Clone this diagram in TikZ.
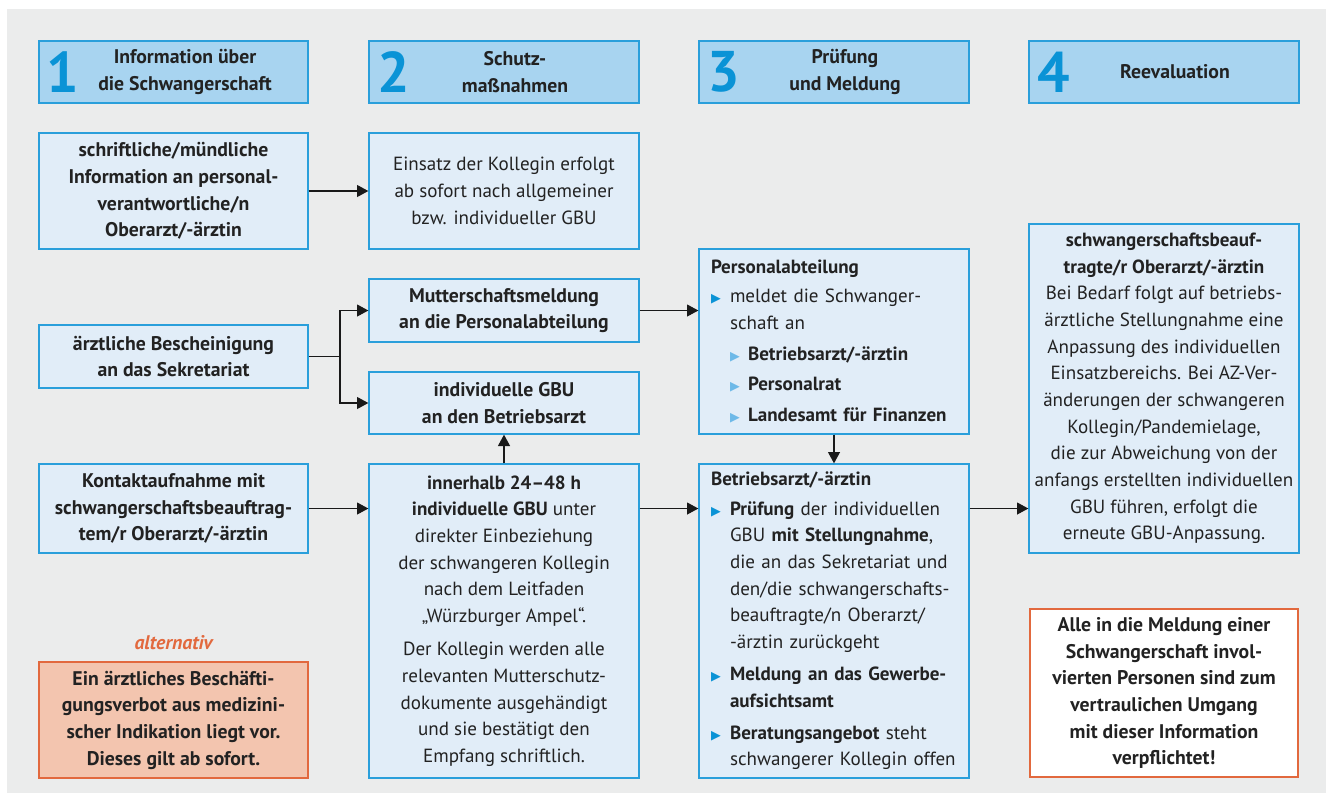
\documentclass[tikz,border=0pt]{standalone}
\usepackage{fontspec}
\setmainfont{PT Sans}
\newfontfamily\symfont{DejaVu Sans}
\usetikzlibrary{arrows.meta}
\definecolor{bgc}{HTML}{EBECEC}
\definecolor{headfill}{HTML}{A8D4F0}
\definecolor{boxfill}{HTML}{E1EDF8}
\definecolor{blueline}{HTML}{2A9FDB}
\definecolor{numblue}{HTML}{0A93D6}
\definecolor{lightbul}{HTML}{6DB9E8}
\definecolor{orfill}{HTML}{F3C5AF}
\definecolor{orline}{HTML}{E2693E}
\definecolor{txt}{HTML}{222222}
\newcommand\bA{\makebox[14.25pt][l]{\textcolor{numblue}{\symfont\fontsize{9.5}{9.5}\selectfont ▶}}}
\newcommand\bB{\makebox[13.5pt][l]{\textcolor{lightbul}{\symfont\fontsize{9.5}{9.5}\selectfont ▶}}}
\newcommand\ind{\hspace*{14.25pt}}
\tikzset{
  wh/.style 2 args={minimum width=#1*0.75pt, minimum height=#2*0.75pt},
  basebox/.style={draw=blueline, line width=1pt, fill=boxfill, text=txt, inner sep=0pt,
    font=\fontsize{14.3}{20}\selectfont, align=center},
  headbox/.style={basebox, fill=headfill},
  cbox/.style={basebox, font=\fontsize{14.8}{20}\selectfont\bfseries},
  rbox/.style={basebox},
  lbox/.style={basebox, align=left, text width=184.5pt, inner xsep=9pt},
  num/.style={text=numblue, font=\fontsize{43}{43}\selectfont\bfseries, inner sep=0pt},
  htitle/.style={text=txt, font=\fontsize{14.8}{20}\selectfont\bfseries, align=center, inner sep=0pt},
  arr/.style={draw=black!90, line width=0.8pt, -{Triangle[length=8.5pt,width=9pt]}},
  ln/.style={draw=black!90, line width=0.8pt}
}
\begin{document}
\begin{tikzpicture}[x=0.75pt,y=-0.75pt]
\useasboundingbox (0,0) rectangle (1333,801);
\fill[white] (0,0) rectangle (1333,801);
\fill[bgc] (7,9) rectangle (1326,793);

% headers
\node[headbox, wh={269}{62}] (h1) at (173.5,72) {};
\node[headbox, wh={270}{62}] (h2) at (504,72) {};
\node[headbox, wh={270}{62}] (h3) at (834,72) {};
\node[headbox, wh={270}{62}] (h4) at (1164,72) {};
\node[num] (n1) at (63,72) {1};
\node[num] (n2) at (394,72) {2};
\node[num] (n3) at (724,72) {3};
\node[num] (n4) at (1054,72) {4};
\node[htitle] (t1) at (185,72) {Information über\\die Schwangerschaft};
\node[htitle] (t2) at (515,72) {Schutz-\\maßnahmen};
\node[htitle] (t3) at (845,72) {Prüfung\\und Meldung};
\node[htitle] (t4) at (1175,72) {Reevaluation};

% column 1
\node[cbox, wh={269}{116}] (a1) at (173.5,191) {schriftliche/mündliche\\Information an personal-\\verantwortliche/n\\Oberarzt/-ärztin};
\node[cbox, wh={269}{63}] (a2) at (173.5,356.5) {ärztliche Bescheinigung\\an das Sekretariat};
\node[cbox, wh={269}{89}] (a3) at (173.5,508.5) {Kontaktaufnahme mit\\schwangerschaftsbeauftrag-\\tem/r Oberarzt/-ärztin};
\node[text=orline, font=\fontsize{14.8}{20}\selectfont\bfseries\itshape, inner sep=0pt] (alt) at (173.5,643) {alternativ};
\node[cbox, fill=orfill, draw=orline, wh={269}{116}] (e1) at (173.5,720) {Ein ärztliches Beschäfti-\\gungsverbot aus medizini-\\scher Indikation liegt vor.\\Dieses gilt ab sofort.};

% column 2
\node[rbox, wh={270}{116}] (b1) at (504,191) {Einsatz der Kollegin erfolgt\\ab sofort nach allgemeiner\\bzw. individueller GBU};
\node[cbox, wh={270}{63}] (b2) at (504,310.5) {Mutterschaftsmeldung\\an die Personalabteilung};
\node[cbox, wh={270}{62}] (b3) at (504,403) {individuelle GBU\\an den Betriebsarzt};
\node[rbox, wh={270}{314}] (b4) at (504,621) {\textbf{innerhalb 24–48 h}\\\textbf{individuelle GBU} unter\\direkter Einbeziehung\\der schwangeren Kollegin\\nach dem Leitfaden\\„Würzburger Ampel“.\\[5pt]Der Kollegin werden alle\\relevanten Mutterschutz-\\dokumente ausgehändigt\\und sie bestätigt den\\Empfang schriftlich.};

% column 3
\node[lbox, wh={270}{185}] (c2) at (834,341.5) {{\bfseries Personalabteilung}\\[2pt]
\bA meldet die Schwanger-\\
\ind schaft an\\[3pt]
\ind\bB\textbf{Betriebsarzt/-ärztin}\\[3pt]
\ind\bB\textbf{Personalrat}\\[3pt]
\ind\bB\textbf{Landesamt für Finanzen}};
\node[lbox, wh={270}{314}] (c3) at (834,621) {{\bfseries Betriebsarzt/-ärztin}\\[2pt]
\bA\textbf{Prüfung} der individuellen\\
\ind GBU \textbf{mit Stellungnahme},\\
\ind die an das Sekretariat und\\
\ind den/die schwangerschafts-\\
\ind beauftragte/n Oberarzt/\\
\ind -ärztin zurückgeht\\[4pt]
\bA\textbf{Meldung an das Gewerbe-}\\
\ind\textbf{aufsichtsamt}\\[4pt]
\bA\textbf{Beratungsangebot} steht\\
\ind schwangerer Kollegin offen};

% column 4
\node[rbox, wh={270}{329}] (d2) at (1164,388.5) {\textbf{schwangerschaftsbeauf-}\\\textbf{tragte/r Oberarzt/-ärztin}\\Bei Bedarf folgt auf betriebs-\\ärztliche Stellungnahme eine\\Anpassung des individuellen\\Einsatzbereichs. Bei AZ-Ver-\\änderungen der schwangeren\\Kollegin/Pandemielage,\\die zur Abweichung von der\\anfangs erstellten individuellen\\GBU führen, erfolgt die\\erneute GBU-Anpassung.};
\node[cbox, fill=white, draw=orline, line width=2.2pt, wh={268}{168}] (d3) at (1164,693) {Alle in die Meldung einer\\Schwangerschaft invol-\\vierten Personen sind zum\\vertraulichen Umgang\\mit dieser Information\\verpflichtet!};

% connectors
\draw[arr] (a1.east) -- (b1.west);
\coordinate (br) at (340,356.5);
\draw[ln] (a2.east) -- (br);
\draw[arr] (br) |- (b2.west);
\draw[arr] (br) |- (b3.west);
\draw[arr] (b2.east) -- (b2.east -| c2.west);
\draw[arr] (c2.south) -- (c2.south |- c3.north);
\draw[arr] (a3.east) -- (a3.east -| b4.west);
\draw[arr] (b4.north) -- (b3.south);
\draw[arr] (a3.east -| b4.east) -- (a3.east -| c3.west);
\draw[arr] (a3.east -| c3.east) -- (a3.east -| d2.west);
\end{tikzpicture}
\end{document}
